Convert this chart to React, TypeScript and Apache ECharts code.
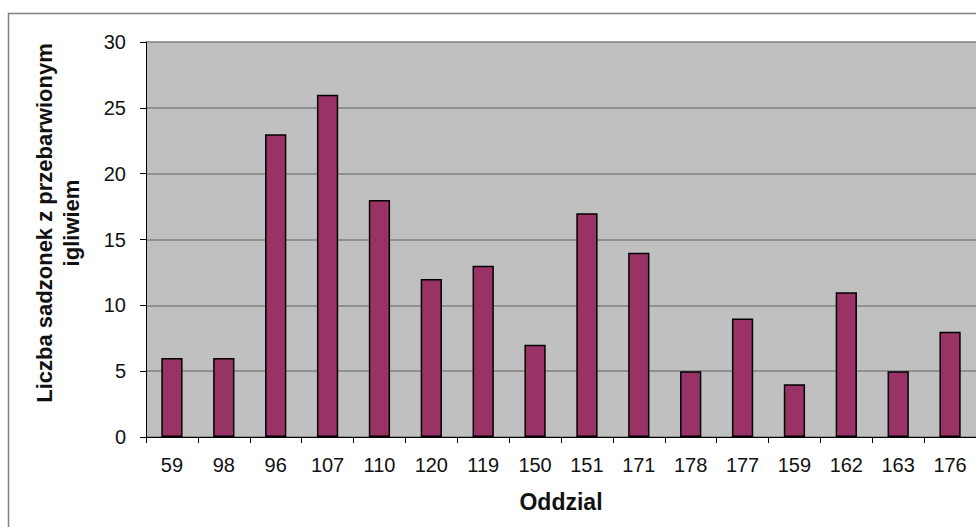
import React, { useEffect, useRef } from "react";
import * as echarts from "echarts";

const categories = ["59", "98", "96", "107", "110", "120", "119", "150", "151", "171", "178", "177", "159", "162", "163", "176"];
const values = [6, 6, 23, 26, 18, 12, 13, 7, 17, 14, 5, 9, 4, 11, 5, 8];
const yTitle = "Liczba sadzonek z przebarwionym\nigliwiem";
const xTitle = "Oddzial";

export default function App() {
  const ref = useRef<HTMLDivElement>(null);
  useEffect(() => {
    if (!ref.current) return;
    const chart = echarts.init(ref.current, undefined, { renderer: "svg" });
    const font = "Liberation Sans, Arial, sans-serif";
    chart.setOption({
      animation: false,
      backgroundColor: "#ffffff",
      graphic: [
        {
          type: "rect",
          shape: { x: 8.5, y: 13.5, width: 1000, height: 600 },
          style: { fill: "none", stroke: "#808080", lineWidth: 1.5 },
          z: -1,
        },
        {
          type: "text",
          x: 58,
          y: 223,
          rotation: Math.PI / 2,
          style: {
            text: yTitle,
            fontFamily: font,
            fontSize: 22,
            fontWeight: "bold",
            fill: "#111",
            lineHeight: 27,
            align: "center",
            verticalAlign: "middle",
          },
        },
      ],
      grid: { left: 146, top: 42, right: 0, bottom: 90, show: true, backgroundColor: "#c0c0c0", borderWidth: 0 },
      xAxis: {
        type: "category",
        data: categories,
        name: xTitle,
        nameLocation: "middle",
        nameGap: 53,
        nameTextStyle: { fontFamily: font, fontSize: 23, fontWeight: "bold", color: "#111" },
        axisLine: { lineStyle: { color: "#000", width: 1 } },
        axisTick: { show: true, length: 6, lineStyle: { color: "#000" } },
        axisLabel: { fontFamily: font, fontSize: 20, color: "#111", margin: 18 },
      },
      yAxis: {
        type: "value",
        min: 0,
        max: 30,
        interval: 5,
        axisLine: { show: true, lineStyle: { color: "#000", width: 1 } },
        axisTick: { show: true, length: 6, lineStyle: { color: "#000" } },
        axisLabel: { fontFamily: font, fontSize: 20, color: "#111", margin: 20 },
        splitLine: { show: true, lineStyle: { color: "#808080", width: 1.5 } },
      },
      series: [
        {
          type: "bar",
          data: values,
          barWidth: "41%",
          itemStyle: { color: "#993366", borderColor: "#000", borderWidth: 1.5 },
        },
      ],
    });
    return () => chart.dispose();
  }, []);
  return <div ref={ref} style={{ position: "fixed", left: 0, top: 0, width: 976, height: 527 }} />;
}
